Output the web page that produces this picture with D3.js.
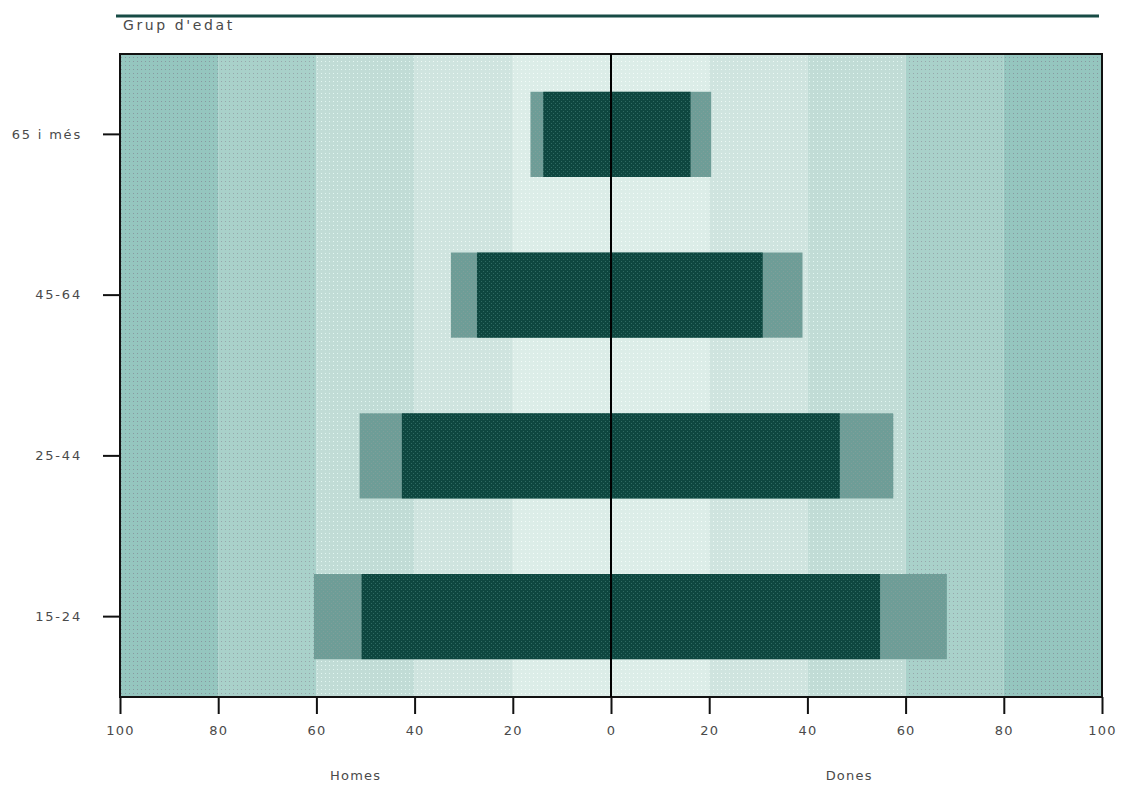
<!DOCTYPE html>
<html>
<head>
<meta charset="utf-8">
<script src="https://cdn.jsdelivr.net/npm/d3@7"></script>
<style>
  html, body { margin: 0; padding: 0; background: #ffffff; }
  svg { display: block; }
  text { font-family: "DejaVu Sans", "Liberation Sans", sans-serif; }
</style>
</head>
<body>
<svg id="chart" width="1123" height="787"></svg>
<script>
// ---- data ----
const categories = ["65 i més", "45-64", "25-44", "15-24"];
const homesTotal = [16.4, 32.6, 51.2, 60.5];
const homesDark  = [13.8, 27.3, 42.6, 50.8];
const donesTotal = [20.4, 39.0, 57.5, 68.4];
const donesDark  = [16.2, 30.9, 46.6, 54.8];
const xTickValues = [-100, -80, -60, -40, -20, 0, 20, 40, 60, 80, 100];
const bandEdges = [0, 20, 40, 60, 80, 100];
const bandColors = ["#dcede8", "#cfe4df", "#c1dcd6", "#a9d1ca", "#95c6bf"];
const bandDots   = ["#f2fbf8", "#ecf8f4", "#e2f6f1", "#97a7ab", "#8899a0"];
const titleText = "Grup d'edat";
const homesLabel = "Homes";
const donesLabel = "Dones";

// ---- layout ----
const svg = d3.select("#chart");
const pL = 120, pR = 1102, pT = 54, pB = 697;
const textFill = "#4a4a4a";

const x = d3.scaleLinear().domain([-100, 100]).range([pL, pR]);
const y = d3.scaleBand().domain(categories).range([pT, pB])
  .paddingInner(0.47).paddingOuter(0.235);

// textures
const defs = svg.append("defs");
bandColors.forEach((c, i) => {
  const p = defs.append("pattern").attr("id", "band" + i)
    .attr("patternUnits", "userSpaceOnUse").attr("width", 4).attr("height", 4);
  p.append("rect").attr("width", 4).attr("height", 4).attr("fill", c);
  p.append("rect").attr("x", 1).attr("y", 1).attr("width", 1).attr("height", 1)
    .attr("fill", bandDots[i]);
});
const barPat = [
  { id: "darkBar", base: "#0e4740", dot: "#2f6a62" },
  { id: "lightBar", base: "#6e9d97", dot: "#7f9f9a" }
];
barPat.forEach(b => {
  const p = defs.append("pattern").attr("id", b.id)
    .attr("patternUnits", "userSpaceOnUse").attr("width", 4).attr("height", 4);
  p.append("rect").attr("width", 4).attr("height", 4).attr("fill", b.base);
  p.append("rect").attr("x", 1).attr("y", 1).attr("width", 1).attr("height", 1)
    .attr("fill", b.dot);
  p.append("rect").attr("x", 3).attr("y", 3).attr("width", 1).attr("height", 1)
    .attr("fill", b.dot);
});

// top rule
svg.append("line")
  .attr("x1", 116).attr("x2", 1099).attr("y1", 16).attr("y2", 16)
  .attr("stroke", "#174b45").attr("stroke-width", 3);

svg.append("text")
  .attr("x", 123).attr("y", 30)
  .attr("font-size", 14).attr("letter-spacing", 2.6).attr("fill", textFill)
  .text(titleText);

// background bands
const bands = [];
for (let i = 0; i < bandColors.length; i++) {
  bands.push({ a: bandEdges[i], b: bandEdges[i + 1], i, side: -1 });
  bands.push({ a: bandEdges[i], b: bandEdges[i + 1], i, side: 1 });
}
svg.append("g").selectAll("rect").data(bands).join("rect")
  .attr("x", d => d.side < 0 ? x(-d.b) : x(d.a))
  .attr("width", d => x(d.b) - x(d.a))
  .attr("y", pT).attr("height", pB - pT)
  .attr("fill", d => `url(#band${d.i})`);

// bars
const rows = categories.map((c, i) => ({
  c, ht: homesTotal[i], hd: homesDark[i], dt: donesTotal[i], dd: donesDark[i]
}));
const g = svg.append("g");
g.selectAll(".ht").data(rows).join("rect").attr("class", "ht")
  .attr("x", d => x(-d.ht)).attr("width", d => x(0) - x(-d.ht))
  .attr("y", d => y(d.c)).attr("height", y.bandwidth())
  .attr("fill", "url(#lightBar)");
g.selectAll(".dt").data(rows).join("rect").attr("class", "dt")
  .attr("x", x(0)).attr("width", d => x(d.dt) - x(0))
  .attr("y", d => y(d.c)).attr("height", y.bandwidth())
  .attr("fill", "url(#lightBar)");
g.selectAll(".hd").data(rows).join("rect").attr("class", "hd")
  .attr("x", d => x(-d.hd)).attr("width", d => x(0) - x(-d.hd))
  .attr("y", d => y(d.c)).attr("height", y.bandwidth())
  .attr("fill", "url(#darkBar)");
g.selectAll(".dd").data(rows).join("rect").attr("class", "dd")
  .attr("x", x(0)).attr("width", d => x(d.dd) - x(0))
  .attr("y", d => y(d.c)).attr("height", y.bandwidth())
  .attr("fill", "url(#darkBar)");

// frame
svg.append("rect")
  .attr("x", pL).attr("y", pT)
  .attr("width", pR - pL).attr("height", pB - pT)
  .attr("fill", "none").attr("stroke", "#111").attr("stroke-width", 2);

// center line
svg.append("line")
  .attr("x1", x(0)).attr("x2", x(0)).attr("y1", pT).attr("y2", pB)
  .attr("stroke", "#000").attr("stroke-width", 2);

// x axis
const xAxis = d3.axisBottom(x).tickValues(xTickValues)
  .tickFormat(d => Math.abs(d)).tickSize(17).tickPadding(12);
const gx = svg.append("g").attr("transform", `translate(0,${pB})`).call(xAxis);
gx.select(".domain").remove();
gx.selectAll(".tick line").attr("stroke", "#111").attr("stroke-width", 2);
gx.selectAll(".tick text").attr("font-size", 13).attr("fill", textFill)
  .attr("letter-spacing", 1.2)
  .attr("font-family", "'DejaVu Sans', sans-serif");

// y axis
const yAxis = d3.axisLeft(y).tickSize(17).tickPadding(21);
const gy = svg.append("g").attr("transform", `translate(${pL},0)`).call(yAxis);
gy.select(".domain").remove();
gy.selectAll(".tick line").attr("stroke", "#111").attr("stroke-width", 2);
gy.selectAll(".tick text").attr("font-size", 13).attr("fill", textFill)
  .attr("letter-spacing", 1.8)
  .attr("font-family", "'DejaVu Sans', sans-serif");

// side labels
svg.append("text").attr("x", x(-52)).attr("y", 780)
  .attr("text-anchor", "middle").attr("font-size", 13).attr("letter-spacing", 1.2)
  .attr("fill", textFill)
  .text(homesLabel);
svg.append("text").attr("x", x(48.5)).attr("y", 780)
  .attr("text-anchor", "middle").attr("font-size", 13).attr("letter-spacing", 1.2)
  .attr("fill", textFill)
  .text(donesLabel);
</script>
</body>
</html>
